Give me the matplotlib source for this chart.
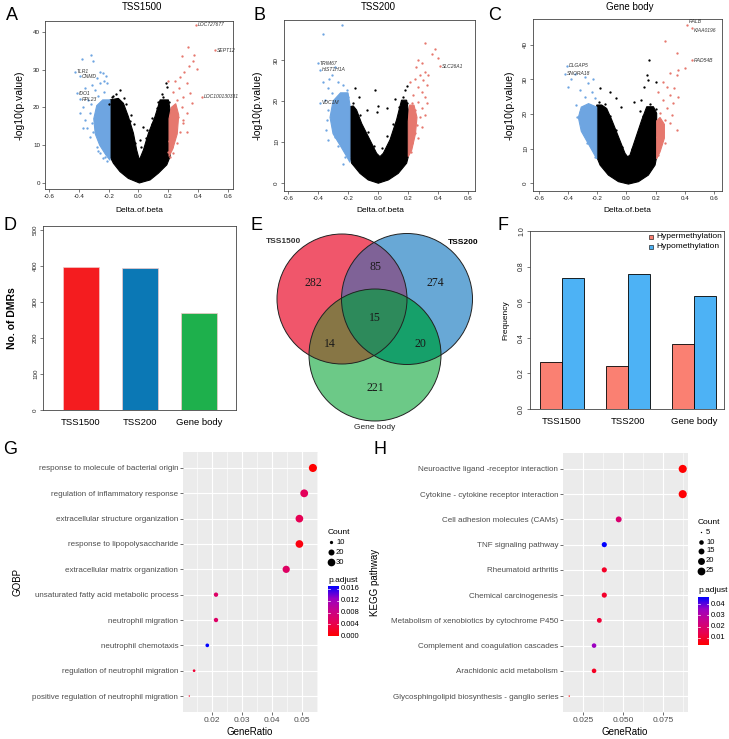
import numpy as np
import matplotlib
matplotlib.use("Agg")
import matplotlib.pyplot as plt
from matplotlib.colors import LinearSegmentedColormap, Normalize
from matplotlib.patches import Polygon, Circle, Rectangle

plt.rcParams["font.family"] = ["Liberation Sans", "DejaVu Sans"]

W, H = 729, 739
BLUE = "#6EA5E1"
RED = "#E6786E"

# ---------------- volcano data: Delta.of.beta vs -log10(p.value) ----------------
# A  TSS1500
a_cloud_x = [-0.191, -0.191, -0.168, -0.124, -0.068, 0.006, 0.078, 0.134, 0.190, 0.212, 0.212,
             0.201, 0.145, 0.111, 0.067, 0.033, 0.006, -0.012, -0.034, -0.068, -0.101, -0.135]
a_cloud_y = [22.0, 7.0, 5.2, 3.0, 1.2, 0.0, 0.8, 2.6, 4.8, 7.0, 19.3,
             22.0, 22.0, 17.6, 13.2, 8.7, 6.1, 8.7, 13.2, 17.6, 21.1, 22.4]
a_black_x = [-0.124, -0.180, -0.086, -0.050, 0.033, 0.183, 0.190, 0.163, 0.122, 0.089, 0.055, -0.030, 0.010,
             -0.150, -0.170, -0.100, -0.060, -0.020, 0.020, 0.050, 0.090, 0.130, 0.160, 0.205, -0.195]
a_black_y = [24.6, 22.9, 21.0, 18.0, 14.9, 26.6, 25.5, 22.9, 19.8, 17.1, 14.0, 15.5, 11.5,
             23.5, 23.0, 22.5, 16.5, 10.5, 9.5, 12.0, 15.5, 21.5, 23.5, 21.5, 21.0]
a_bfill_x = [-0.191, -0.220, -0.260, -0.290, -0.300, -0.280, -0.240, -0.191]
a_bfill_y = [6.0, 7.5, 10.0, 13.0, 17.0, 20.5, 22.0, 22.0]
a_blue_x = [-0.381, -0.318, -0.307, -0.258, -0.235, -0.218, -0.280, -0.258, -0.314, -0.358, -0.291,
            -0.336, -0.370, -0.325, -0.358, -0.343, -0.303, -0.325, -0.280, -0.258, -0.224, -0.213,
            -0.247, -0.213, -0.392, -0.370, -0.230, -0.250, -0.270, -0.320, -0.310, -0.270, -0.240, -0.230]
a_blue_y = [32.8, 33.9, 32.4, 29.5, 29.1, 28.2, 27.7, 26.4, 26.0, 25.1, 24.6,
            22.0, 20.2, 18.5, 16.7, 14.5, 13.6, 12.3, 9.6, 7.9, 7.0, 5.7,
            10.5, 26.4, 18.5, 14.5, 24.0, 21.5, 23.0, 21.0, 16.0, 8.5, 6.5, 27.0]
a_rfill_x = [0.205, 0.230, 0.260, 0.270, 0.250, 0.220, 0.205]
a_rfill_y = [7.0, 9.0, 13.0, 18.0, 21.0, 20.0, 17.0]
a_red_x = [0.335, 0.375, 0.290, 0.364, 0.342, 0.395, 0.308, 0.279, 0.245, 0.201, 0.324, 0.275,
           0.234, 0.346, 0.301, 0.257, 0.357, 0.290, 0.234, 0.324, 0.268, 0.216, 0.297, 0.246,
           0.212, 0.279, 0.234, 0.207, 0.257, 0.223, 0.201, 0.234, 0.212, 0.301, 0.324]
a_red_y = [35.9, 33.9, 33.6, 32.2, 31.0, 30.1, 29.5, 28.0, 26.9, 26.9, 26.4, 25.1,
           24.2, 23.8, 22.9, 22.0, 21.1, 20.2, 19.3, 18.5, 17.6, 16.7, 15.8, 14.9,
           14.0, 13.6, 12.3, 11.0, 10.5, 9.6, 8.3, 7.9, 7.0, 16.7, 13.6]
a_genes = ["LOC727677", "SEPT12", "LOC100130331", "TLR1", "CNMD", "IDO1", "RPL23"]
a_gene_x = [0.387, 0.514, 0.425, -0.425, -0.392, -0.414, -0.392]
a_gene_y = [41.9, 35.2, 22.9, 29.5, 28.3, 23.8, 22.2]

# B  TSS200
b_cloud_x = [-0.187, -0.187, -0.176, -0.120, -0.065, 0.002, 0.069, 0.135, 0.191, 0.202, 0.202,
             0.191, 0.157, 0.124, 0.080, 0.035, 0.013, -0.009, -0.054, -0.109, -0.143, -0.165]
b_cloud_y = [18.6, 6.4, 4.8, 2.3, 0.7, -0.1, 0.7, 2.3, 4.8, 6.4, 17.8,
             20.2, 20.2, 15.4, 10.5, 7.2, 6.4, 7.2, 10.5, 14.5, 17.8, 18.8]
b_black_x = [-0.154, -0.020, 0.191, 0.180, 0.113, 0.000, 0.057, -0.076, -0.009, -0.130,
             -0.170, -0.120, -0.070, -0.030, 0.030, 0.060, 0.100, 0.140, 0.170, 0.195]
b_black_y = [23.3, 22.8, 23.7, 22.8, 20.5, 18.8, 18.2, 17.8, 17.4, 21.0,
             19.5, 16.5, 12.5, 9.0, 8.5, 11.5, 14.5, 18.5, 21.0, 19.5]
b_bfill_x = [-0.187, -0.210, -0.250, -0.300, -0.320, -0.300, -0.250, -0.200, -0.187]
b_bfill_y = [5.0, 6.5, 9.0, 12.0, 16.0, 20.0, 22.0, 22.0, 19.0]
b_blue_x = [-0.365, -0.243, -0.287, -0.305, -0.365, -0.336, -0.269, -0.231, -0.209, -0.309,
            -0.354, -0.254, -0.331, -0.287, -0.343, -0.298, -0.331, -0.287, -0.265, -0.231,
            -0.220, -0.198, -0.220, -0.330, -0.350]
b_blue_y = [36.5, 38.5, 28.4, 26.3, 24.7, 23.3, 24.7, 23.9, 22.7, 21.9,
            20.2, 20.6, 17.8, 18.6, 15.4, 13.7, 10.5, 11.3, 8.9, 4.6,
            6.4, 21.1, 17.0, 25.5, 13.0]
b_rfill_x = [0.202, 0.225, 0.250, 0.260, 0.240, 0.210, 0.202]
b_rfill_y = [6.4, 8.0, 12.0, 16.0, 19.0, 19.0, 15.0]
b_red_x = [0.313, 0.380, 0.357, 0.397, 0.269, 0.291, 0.251, 0.313, 0.331, 0.280, 0.302, 0.246,
           0.213, 0.324, 0.269, 0.291, 0.235, 0.313, 0.269, 0.224, 0.291, 0.246, 0.213, 0.280,
           0.235, 0.313, 0.258, 0.220, 0.291, 0.246, 0.213, 0.269, 0.224, 0.220, 0.324]
b_red_y = [34.1, 32.6, 31.5, 30.4, 30.0, 29.2, 28.4, 27.2, 26.3, 26.3, 25.1, 25.5,
           24.7, 23.9, 23.5, 22.3, 21.5, 21.0, 19.8, 19.4, 18.2, 17.8, 17.0, 16.2,
           15.4, 16.6, 14.1, 13.3, 13.7, 12.1, 11.3, 10.9, 9.7, 7.6, 19.4]
b_genes = ["TRIM67", "HIST1H1A", "VDC1M", "SLC26A1"]
b_gene_x = [-0.402, -0.387, -0.387, 0.413]
b_gene_y = [29.2, 27.7, 19.6, 28.5]

# C  Gene body
c_cloud_x = [-0.204, -0.204, -0.181, -0.124, -0.055, 0.013, 0.082, 0.150, 0.196, 0.207, 0.207,
             0.185, 0.139, 0.105, 0.059, 0.024, 0.008, -0.010, -0.055, -0.101, -0.136, -0.170]
c_cloud_y = [22.6, 7.6, 5.2, 2.3, 0.4, -0.3, 0.4, 2.3, 5.2, 7.6, 20.2,
             22.1, 22.1, 18.3, 12.5, 8.1, 7.6, 8.6, 13.4, 18.3, 21.6, 22.6]
c_black_x = [-0.180, -0.110, -0.070, -0.040, 0.120, 0.150, 0.139, 0.157, 0.200, 0.100, 0.090, 0.050,
             -0.190, -0.150, -0.110, -0.070, -0.030, 0.035, 0.070, 0.110, 0.160, 0.200]
c_black_y = [27.4, 26.5, 24.5, 22.0, 27.8, 29.8, 31.3, 35.6, 29.4, 24.0, 21.0, 23.5,
             23.5, 23.0, 19.5, 15.5, 10.5, 10.0, 13.5, 19.5, 23.0, 21.5]
c_bfill_x = [-0.204, -0.230, -0.270, -0.310, -0.330, -0.310, -0.260, -0.204]
c_bfill_y = [7.0, 9.0, 12.0, 15.0, 19.0, 22.0, 23.0, 22.0]
c_blue_x = [-0.353, -0.380, -0.284, -0.227, -0.261, -0.398, -0.318, -0.238, -0.284, -0.215, -0.348,
            -0.296, -0.318, -0.273, -0.307, -0.238, -0.284, -0.238, -0.273, -0.227, -0.215, -0.341]
c_blue_y = [31.6, 30.0, 30.8, 30.0, 29.1, 27.7, 26.9, 26.5, 25.0, 24.5, 22.6,
            22.1, 20.7, 19.2, 17.8, 17.3, 15.4, 12.5, 11.5, 10.0, 7.6, 19.2]
c_rfill_x = [0.207, 0.230, 0.260, 0.260, 0.230, 0.207]
c_rfill_y = [7.0, 9.0, 13.0, 17.0, 19.0, 18.0]
c_red_x = [0.265, 0.345, 0.402, 0.356, 0.299, 0.345, 0.253, 0.276, 0.329, 0.219, 0.299, 0.356,
           0.253, 0.322, 0.276, 0.230, 0.310, 0.265, 0.219, 0.345, 0.253, 0.207, 0.242, 0.219,
           0.265, 0.214, 0.299]
c_red_y = [41.0, 37.8, 33.2, 32.7, 31.8, 31.3, 29.4, 27.9, 27.4, 26.5, 25.5, 25.0,
           24.0, 23.1, 21.6, 20.2, 19.7, 18.3, 16.3, 15.4, 14.9, 13.4, 12.5, 10.5,
           11.5, 8.1, 17.3]
c_genes = ["RALB", "KIAA0196", "RAD54B", "DLGAP5", "SNORA18"]
c_gene_x = [0.418, 0.452, 0.447, -0.410, -0.421]
c_gene_y = [45.8, 45.0, 35.6, 33.9, 31.6]

# ---------------- D / E / F ----------------
regions = ["TSS1500", "TSS200", "Gene body"]
dmr_counts = [396, 394, 270]
dmr_colors = ["#F41C1F", "#0B78B5", "#1EB04C"]
hyper_freq = [0.262, 0.241, 0.367]
hypo_freq = [0.738, 0.759, 0.633]
venn_values = [282, 274, 221, 85, 14, 20, 15]   # 1500 only, 200 only, body only, 1500&200, 1500&body, 200&body, all

# ---------------- G / H ----------------
go_terms = ["response to molecule of bacterial origin", "regulation of inflammatory response",
            "extracellular structure organization", "response to lipopolysaccharide",
            "extracellular matrix organization", "unsaturated fatty acid metabolic process",
            "neutrophil migration", "neutrophil chemotaxis", "regulation of neutrophil migration",
            "positive regulation of neutrophil migration"]
go_ratio = [0.0536, 0.0507, 0.0491, 0.0491, 0.0447, 0.0213, 0.0213, 0.0184, 0.0140, 0.0124]
go_count = [33, 31, 30, 30, 27, 13, 13, 11, 9, 8]
go_padj = [0.00002, 0.0050, 0.0045, 0.0008, 0.0056, 0.0058, 0.0058, 0.0170, 0.0028, 0.0020]

kegg_terms = ["Neuroactive ligand -receptor interaction", "Cytokine - cytokine receptor interaction",
              "Cell adhesion molecules (CAMs)", "TNF signaling pathway", "Rheumatoid arthritis",
              "Chemical carcinogenesis", "Metabolism of xenobiotics by cytochrome P450",
              "Complement and coagulation cascades", "Arachidonic acid metabolism",
              "Glycosphingolipid biosynthesis - ganglio series"]
kegg_ratio = [0.0873, 0.0873, 0.0473, 0.0383, 0.0383, 0.0383, 0.0352, 0.0319, 0.0319, 0.0164]
kegg_count = [27, 27, 15, 12, 12, 12, 11, 10, 10, 5]
kegg_padj = [0.0040, 0.0042, 0.0200, 0.0462, 0.0090, 0.0095, 0.0110, 0.0350, 0.0085, 0.0038]

CMAP = LinearSegmentedColormap.from_list(
    "padj", ["#FF0000", "#E80050", "#C90089", "#9A00C3", "#0000FF"])

fig = plt.figure(figsize=(W / 100, H / 100), dpi=100)


def px_axes(l, t, r, b):
    return fig.add_axes([l / W, 1 - b / H, (r - l) / W, (b - t) / H])


def r_style(ax, labelsize=4.5):
    for s in ax.spines.values():
        s.set_linewidth(0.6)
        s.set_color("#444444")
    ax.tick_params(direction="out", length=2, width=0.5, labelsize=labelsize, pad=1.5,
                   color="#444444", labelcolor="#222222")


def volcano(box, xlim, ylim, yticks, rotate, cloud, black, bfill, blue, rfill, red, genes,
            label_dy=None):
    ax = px_axes(*box)
    ax.fill(cloud[0], cloud[1], color="black", lw=0.8, zorder=2)
    ax.fill(bfill[0], bfill[1], color=BLUE, lw=0.8, zorder=2)
    ax.fill(rfill[0], rfill[1], color=RED, lw=0.8, zorder=2)
    ax.scatter(black[0], black[1], s=2.8, c="black", lw=0, zorder=3)
    ax.scatter(blue[0], blue[1], s=2.8, c=BLUE, lw=0, zorder=3)
    ax.scatter(red[0], red[1], s=2.8, c=RED, lw=0, zorder=3)
    names, gx, gy = genes
    if label_dy is None:
        label_dy = [0] * len(names)
    for name, x, y, dy in zip(names, gx, gy, label_dy):
        ax.scatter([x], [y], s=2.8, c=RED if x > 0 else BLUE, lw=0, zorder=4)
        ax.text(x + 0.012, y + dy, name, fontsize=3.6, style="italic", color="#333333",
                va="center", zorder=5)
    ax.set_xlim(*xlim)
    ax.set_ylim(*ylim)
    ax.set_xticks([-0.6, -0.4, -0.2, 0.0, 0.2, 0.4, 0.6])
    ax.set_xticklabels(["-0.6", "-0.4", "-0.2", "0.0", "0.2", "0.4", "0.6"])
    ax.set_yticks(yticks)
    r_style(ax)
    if rotate:
        for lab in ax.get_yticklabels():
            lab.set_rotation(90)
            lab.set_va("center")
    return ax


volcano((45, 21, 233, 189), (-0.627, 0.634), (-1.6, 42.9), [0, 10, 20, 30, 40], False,
        (a_cloud_x, a_cloud_y), (a_black_x, a_black_y), (a_bfill_x, a_bfill_y),
        (a_blue_x, a_blue_y), (a_rfill_x, a_rfill_y), (a_red_x, a_red_y),
        (a_genes, a_gene_x, a_gene_y))
volcano((284, 20, 475, 191), (-0.627, 0.647), (-2.0, 39.8), [0, 10, 20, 30], True,
        (b_cloud_x, b_cloud_y), (b_black_x, b_black_y), (b_bfill_x, b_bfill_y),
        (b_blue_x, b_blue_y), (b_rfill_x, b_rfill_y), (b_red_x, b_red_y),
        (b_genes, b_gene_x, b_gene_y))
volcano((533, 19, 722, 191), (-0.641, 0.655), (-2.3, 47.5), [0, 10, 20, 30, 40], True,
        (c_cloud_x, c_cloud_y), (c_black_x, c_black_y), (c_bfill_x, c_bfill_y),
        (c_blue_x, c_blue_y), (c_rfill_x, c_rfill_y), (c_red_x, c_red_y),
        (c_genes, c_gene_x, c_gene_y), label_dy=[0.9, -0.9, 0, 0, 0])

# D: number of DMRs
axd = px_axes(43, 226, 236, 410)
axd.bar(range(3), dmr_counts, width=0.61, color=dmr_colors, edgecolor="#F3C8C8", lw=0.5)
axd.set_xlim(-0.644, 2.627)
axd.set_ylim(0, 511)
axd.set_yticks([0, 100, 200, 300, 400, 500])
axd.set_xticks(range(3))
axd.set_xticklabels(regions)
r_style(axd)
axd.tick_params(axis="x", length=0, pad=6, labelsize=6.8, labelcolor="black")
for lab in axd.get_yticklabels():
    lab.set_rotation(90)
    lab.set_va("center")

# F: frequency of hyper/hypo methylation
axf = px_axes(530, 231, 724, 409)
pos = np.arange(3)
axf.bar(pos - 0.167, hyper_freq, width=0.333, color="#FA8072", edgecolor="black", lw=0.6)
axf.bar(pos + 0.167, hypo_freq, width=0.333, color="#4DB2F5", edgecolor="black", lw=0.6)
axf.set_xlim(-0.485, 2.455)
axf.set_ylim(0, 1.0)
axf.set_yticks([0, 0.2, 0.4, 0.6, 0.8, 1.0])
axf.set_yticklabels(["0.0", "0.2", "0.4", "0.6", "0.8", "1.0"])
axf.set_xticks(pos)
axf.set_xticklabels(regions)
r_style(axf, labelsize=5)
axf.tick_params(axis="x", length=0, pad=6, labelsize=6.8, labelcolor="black")
for lab in axf.get_yticklabels():
    lab.set_rotation(90)
    lab.set_va("center")

# E: Venn diagram (pixel coordinates)
axe = px_axes(250, 215, 500, 440)
axe.set_xlim(250, 500)
axe.set_ylim(440, 215)
axe.axis("off")
circs = [(342, 299, 65), (407, 299, 65.5), (375, 355, 66)]
base_cols = ["#F0566B", "#68A8D6", "#6CC987"]


def region_poly(cl):
    pts = []
    t = np.linspace(0, 2 * np.pi, 1440)
    for i, (cx, cy, r) in enumerate(cl):
        px, py = cx + r * np.cos(t), cy + r * np.sin(t)
        keep = np.ones_like(t, bool)
        for j, (ox, oy, orr) in enumerate(cl):
            if j != i:
                keep &= (px - ox) ** 2 + (py - oy) ** 2 <= orr ** 2 + 1e-6
        pts.append(np.c_[px[keep], py[keep]])
    pts = np.vstack(pts)
    c = pts.mean(axis=0)
    return pts[np.argsort(np.arctan2(pts[:, 1] - c[1], pts[:, 0] - c[0]))]


for (cx, cy, r), col in zip(circs, base_cols):
    axe.add_patch(Circle((cx, cy), r, fc=col, ec="none"))
for ids, col in [((0, 1), "#7F6297"), ((0, 2), "#877645"), ((1, 2), "#16A06A"),
                 ((0, 1, 2), "#2D8A5B")]:
    axe.add_patch(Polygon(region_poly([circs[i] for i in ids]), closed=True, fc=col, ec="none"))
for cx, cy, r in circs:
    axe.add_patch(Circle((cx, cy), r, fc="none", ec="#222222", lw=0.7))
venn_pos = [(313, 283), (435, 283), (375, 388), (375, 267), (330, 344), (420, 344), (375, 318)]
for v, (x, y) in zip(venn_values, venn_pos):
    axe.text(x, y, str(v), fontsize=8.5, family="Liberation Serif", ha="center", va="center",
             color="#1a1a1a")
axe.text(283, 242, "TSS1500", fontsize=6, fontweight="bold", color="#333333", ha="center", va="center")
axe.text(463, 243, "TSS200", fontsize=6, fontweight="bold", color="black", ha="center", va="center")
axe.text(375, 428, "Gene body", fontsize=6, color="#222222", ha="center", va="center")


# G / H dot plots
def dot_px(c, lo, hi):
    c = np.asarray(c, float)
    return 1.35 * (1 + 5 * np.sqrt((c - lo) / (hi - lo)))


def dotplot(box, terms, ratio, count, padj, xlim, major, majlab, minor):
    ax = px_axes(*box)
    ax.set_facecolor("#EBEBEB")
    for s in ax.spines.values():
        s.set_visible(False)
    idx = np.arange(len(terms))
    ax.set_xlim(*xlim)
    ax.set_ylim(len(terms) - 1 + 0.63, -0.63)
    ax.set_xticks(major)
    ax.set_xticklabels(majlab)
    ax.set_xticks(minor, minor=True)
    ax.set_yticks(idx)
    ax.set_yticklabels(terms)
    ax.set_axisbelow(True)
    ax.grid(which="major", color="white", lw=0.8)
    ax.grid(which="minor", axis="x", color="white", lw=0.4)
    ax.tick_params(which="major", length=2, width=0.5, color="#333333", labelsize=5.8,
                   labelcolor="#4D4D4D", pad=1.5)
    ax.tick_params(which="minor", length=0)
    ax.tick_params(axis="x", labelsize=6)
    lo, hi = min(count), max(count)
    ax.scatter(ratio, idx, s=(dot_px(count, lo, hi) * 0.72) ** 2, c=padj, cmap=CMAP,
               norm=Normalize(min(padj), max(padj)), lw=0, zorder=3)
    return ax


dotplot((183, 452, 318, 712), go_terms, go_ratio, go_count, go_padj, (0.0103, 0.0553),
        [0.02, 0.03, 0.04, 0.05], ["0.02", "0.03", "0.04", "0.05"],
        [0.015, 0.025, 0.035, 0.045, 0.055])
dotplot((563, 453, 688, 712), kegg_terms, kegg_ratio, kegg_count, kegg_padj, (0.0125, 0.0906),
        [0.025, 0.05, 0.075], ["0.025", "0.050", "0.075"], [0.0375, 0.0625, 0.0875])

# overlay in pixel coordinates for labels and legends
ov = fig.add_axes([0, 0, 1, 1], zorder=10)
ov.set_autoscale_on(False)
ov.set_xlim(0, W)
ov.set_ylim(H, 0)
ov.axis("off")

for letter, x, y in [("A", 12, 15), ("B", 260, 15), ("C", 495, 15), ("D", 10, 225),
                     ("E", 257, 225), ("F", 503, 225), ("G", 10, 450), ("H", 380, 450)]:
    ov.text(x, y, letter, fontsize=13, ha="center", va="center")

for t, x in [("TSS1500", 142), ("TSS200", 378), ("Gene body", 630)]:
    ov.text(x, 7, t, fontsize=7, ha="center", va="center")
for x in [139, 380, 627]:
    ov.text(x, 211, "Delta.of.beta", fontsize=6, ha="center", va="center")
for x in [20, 258, 510]:
    ov.text(x, 105, "-log10(p.value)", fontsize=7.5, rotation=90, ha="center", va="center")
ov.text(12, 318, "No. of DMRs", fontsize=7.5, fontweight="bold", rotation=90, ha="center", va="center")
ov.text(506, 320, "Frequency", fontsize=6, rotation=90, ha="center", va="center")

# F legend
for y, col, lab in [(237, "#FA8072", "Hypermethylation"), (247, "#4DB2F5", "Hypomethylation")]:
    ov.add_patch(Rectangle((649, y - 2), 4, 4, fc=col, ec="black", lw=0.4))
    ov.text(656, y, lab, fontsize=6, va="center", ha="left")

ov.text(18, 582, "GOBP", fontsize=7, rotation=90, ha="center", va="center")
ov.text(375, 582, "KEGG pathway", fontsize=7, rotation=90, ha="center", va="center")
ov.text(250, 732, "GeneRatio", fontsize=7, ha="center", va="center")
ov.text(625, 732, "GeneRatio", fontsize=7, ha="center", va="center")


def dot_legend(x0, y_count, breaks, break_y, lo, hi, y_padj, cb_top, cb_bot, vmin, vmax, ticks, fmt):
    ov.text(x0, y_count, "Count", fontsize=6, ha="left", va="center")
    for b, y in zip(breaks, break_y):
        ov.scatter([x0 + 3], [y], s=(dot_px(b, lo, hi) * 0.72) ** 2, c="black", lw=0)
        ov.text(x0 + 8, y, str(b), fontsize=5.5, ha="left", va="center")
    ov.text(x0, y_padj, "p.adjust", fontsize=6, ha="left", va="center")
    grad = np.linspace(0, 1, 256).reshape(-1, 1)
    ov.imshow(grad, extent=[x0, x0 + 11, cb_bot, cb_top], origin="lower", cmap=CMAP,
              aspect="auto", zorder=5)
    for v in ticks:
        y = cb_bot - (v - vmin) / (vmax - vmin) * (cb_bot - cb_top)
        ov.plot([x0, x0 + 2], [y, y], color="white", lw=0.5, zorder=6)
        ov.plot([x0 + 9, x0 + 11], [y, y], color="white", lw=0.5, zorder=6)
        ov.text(x0 + 13, y, fmt % v, fontsize=5.5, ha="left", va="center")


dot_legend(328, 532, [10, 20, 30], [542, 552, 562], min(go_count), max(go_count),
           580, 586, 636, min(go_padj), max(go_padj), [0.0, 0.004, 0.008, 0.012, 0.016], "%.3f")
dot_legend(698, 522, [5, 10, 15, 20, 25], [532, 542, 551, 561, 571], min(kegg_count), max(kegg_count),
           591, 597, 645, min(kegg_padj), max(kegg_padj), [0.01, 0.02, 0.03, 0.04], "%.2f")

ov.set_xlim(0, W)
ov.set_ylim(H, 0)

fig.savefig("out.png", dpi=100)
